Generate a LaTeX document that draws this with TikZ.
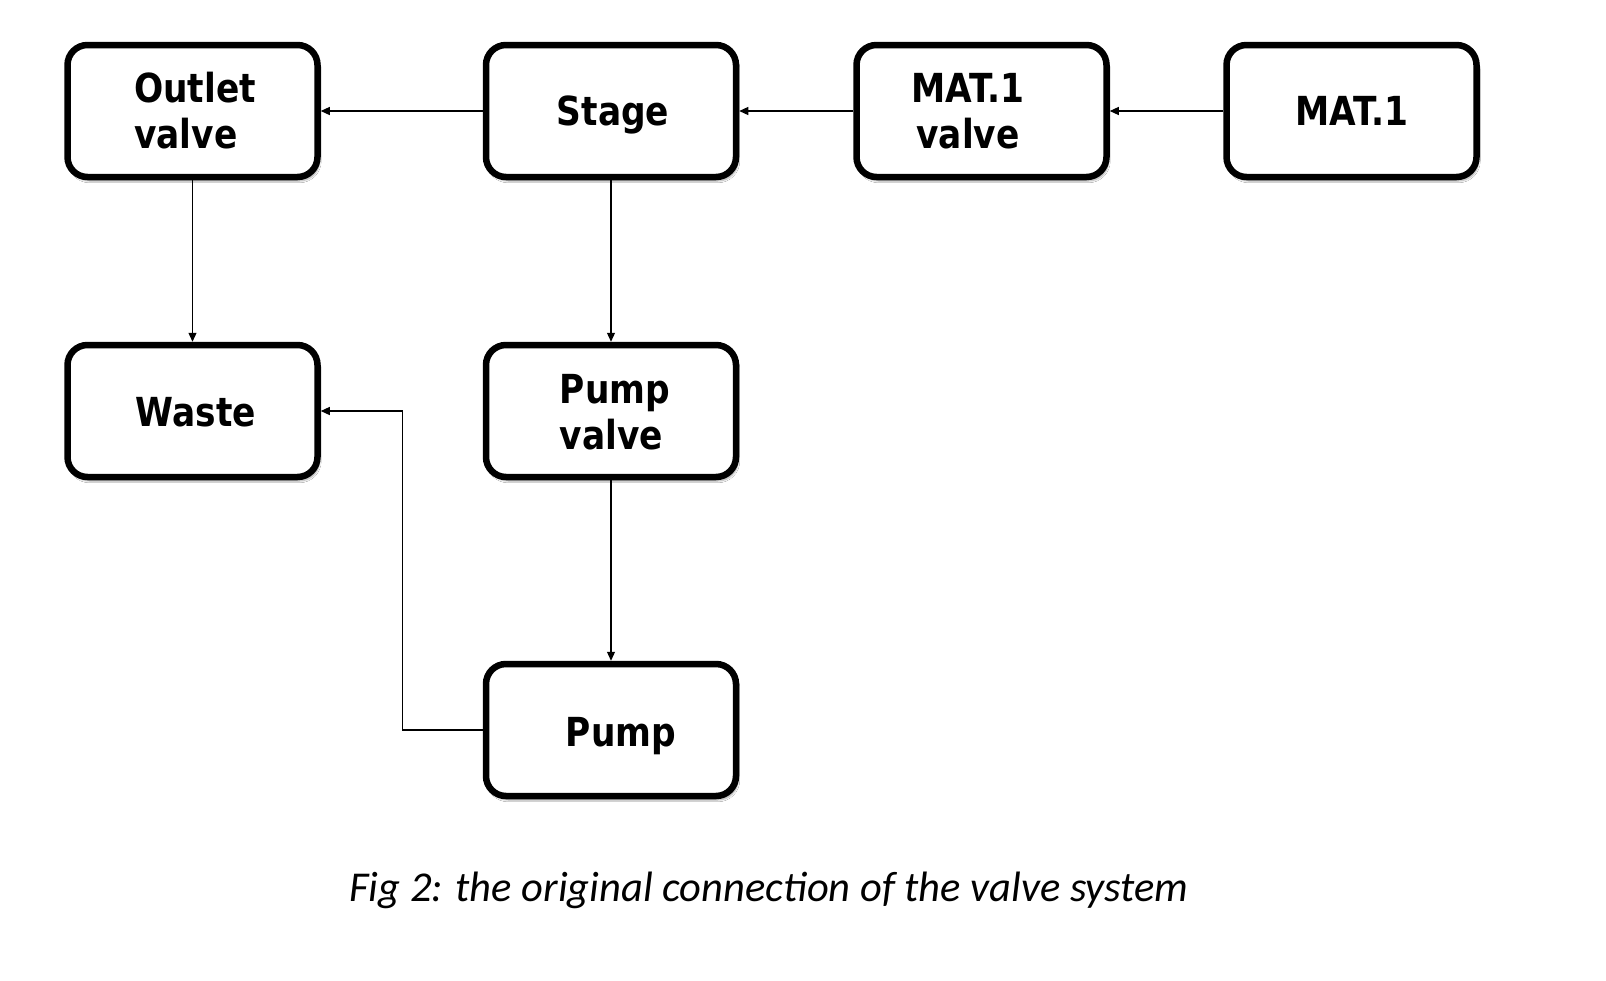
\documentclass[tikz,border=0pt]{standalone}
\usepackage{fontspec}
\newfontfamily\boxfont[FakeStretch=0.86]{DejaVu Sans}
\newfontfamily\capfont{Carlito}
\usetikzlibrary{arrows.meta,shadows.blur}
\tikzset{
  blk/.style={draw=black, line width=6.5pt, rounded corners=20pt, fill=white,
    minimum width=250pt, minimum height=132pt, inner sep=0pt,
    blur shadow={shadow xshift=2pt, shadow yshift=-4pt, shadow blur steps=6, shadow opacity=35}},
  conn/.style={line width=1.2pt, -{Triangle[length=9pt,width=8pt]}},
  lbl/.style={font=\boxfont\bfseries\fontsize{40}{46}\selectfont, inner sep=0pt}
}
\begin{document}
\begin{tikzpicture}[x=1pt,y=-1pt]
\useasboundingbox (0,0) rectangle (1606,980);
\fill[white] (0,0) rectangle (1606,980);
\node[blk] (outlet) at (192.5,111) {};
\node[blk] (stage) at (611,111) {};
\node[blk] (matv) at (981.5,111) {};
\node[blk] (mat) at (1351.5,111) {};
\node[blk] (waste) at (192.5,411) {};
\node[blk] (pumpv) at (611,411) {};
\node[blk] (pump) at (611,730) {};
\node[lbl, align=left] (t1) at (195,111) {Outlet\\valve};
\node[lbl] (t2) at (613,115) {Stage};
\node[lbl, align=center] (t3) at (968,111) {MAT.1\\valve};
\node[lbl] (t4) at (1352,111) {MAT.1};
\node[lbl] (t5) at (196,412) {Waste};
\node[lbl, align=left] (t6) at (615,412) {Pump\\valve};
\node[lbl] (t7) at (621,736) {Pump};
\draw[conn] (stage.west) -- (outlet.east);
\draw[conn] (matv.west) -- (stage.east);
\draw[conn] (mat.west) -- (matv.east);
\draw[conn] (outlet.south) -- (waste.north);
\draw[conn] (stage.south) -- (pumpv.north);
\draw[conn] (pumpv.south) -- (pump.north);
\coordinate (bend) at (402.5,730);
\draw[conn] (pump.west) -- (bend) |- (waste.east);
\node[font=\capfont\itshape\fontsize{42.5}{48}\selectfont, inner sep=0pt] (cap) at (769,890) {Fig 2: the original connection of the valve system};
\end{tikzpicture}
\end{document}
